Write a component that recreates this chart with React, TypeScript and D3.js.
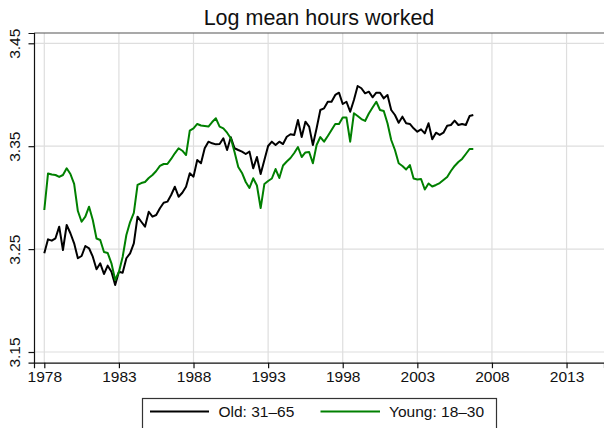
import * as d3 from 'd3';
import * as React from 'react';

// quarterly observations, 1978Q1 onward
const startYear = 1978;

const oldHours = [
  3.2459, 3.2595, 3.2582, 3.2605, 3.2718, 3.2491, 3.2734, 3.2654, 3.2556, 3.2411,
  3.2433, 3.253, 3.2508, 3.2426, 3.2304, 3.2362, 3.2258, 3.2339, 3.228, 3.2151,
  3.228, 3.2271, 3.2411, 3.2459, 3.2556, 3.2815, 3.2766, 3.2718, 3.2863, 3.2815,
  3.2831, 3.2897, 3.2951, 3.2961, 3.3026, 3.3106, 3.3009, 3.3048, 3.3106, 3.3237,
  3.3204, 3.3366, 3.3334, 3.348, 3.3544, 3.3528, 3.3518, 3.3521, 3.3577, 3.3463,
  3.3587, 3.348, 3.3463, 3.3447, 3.3424, 3.3447, 3.3285, 3.3395, 3.323, 3.3366,
  3.3502, 3.3544, 3.3512, 3.3544, 3.3521, 3.3592, 3.3616, 3.3609, 3.3755, 3.3589,
  3.3738, 3.369, 3.3512, 3.3674, 3.3852, 3.3868, 3.3932, 3.3932, 3.3998, 3.402,
  3.391, 3.3932, 3.3835, 3.3949, 3.4085, 3.4063, 3.4014, 3.403, 3.3975, 3.402,
  3.402, 3.3965, 3.3998, 3.3852, 3.3803, 3.3728, 3.3787, 3.3723, 3.3716, 3.3674,
  3.3641, 3.3664, 3.3625, 3.3723, 3.3567, 3.3631, 3.3609, 3.3631, 3.3699, 3.3706,
  3.3748, 3.3706, 3.3716, 3.3706, 3.3793, 3.3803,
];

const youngHours = [
  3.288, 3.3235, 3.3225, 3.322, 3.3201, 3.322, 3.3285, 3.323, 3.3133, 3.287,
  3.2766, 3.2815, 3.2912, 3.2783, 3.2603, 3.2588, 3.2472, 3.2462, 3.2362, 3.22,
  3.2277, 3.2423, 3.2637, 3.2763, 3.2851, 3.3123, 3.3142, 3.3152, 3.3191, 3.322,
  3.3259, 3.3308, 3.3327, 3.3327, 3.3376, 3.3431, 3.348, 3.3456, 3.3414, 3.3651,
  3.3674, 3.3716, 3.3701, 3.3696, 3.3691, 3.3735, 3.3771, 3.3691, 3.3674, 3.3631,
  3.3577, 3.3444, 3.3298, 3.324, 3.3152, 3.3094, 3.3188, 3.3118, 3.2899, 3.3133,
  3.3162, 3.3186, 3.3278, 3.3191, 3.3312, 3.3351, 3.3385, 3.3434, 3.3492, 3.3395,
  3.3439, 3.3444, 3.3334, 3.3512, 3.3589, 3.3544, 3.3599, 3.3657, 3.3716, 3.3716,
  3.3779, 3.3779, 3.3544, 3.382, 3.3793, 3.3764, 3.3745, 3.3818, 3.3876, 3.3932,
  3.3852, 3.3842, 3.3723, 3.356, 3.3463, 3.3334, 3.3308, 3.3274, 3.3317, 3.3186,
  3.3176, 3.3181, 3.3079, 3.3138, 3.3108, 3.3123, 3.3142, 3.3172, 3.3201, 3.3259,
  3.3308, 3.3346, 3.3376, 3.3424, 3.3473, 3.3473,
];

const xTicks = [1978, 1983, 1988, 1993, 1998, 2003, 2008, 2013];
const yTicks = [3.15, 3.25, 3.35, 3.45];

const seriesNames = ['Old: 31\u201365', 'Young: 18\u201330'];
const seriesColors = ['#000000', '#008000'];

const FONT = '"Liberation Sans", Arial, sans-serif';

const App = () => {
  const ref = React.useRef<SVGSVGElement | null>(null);
  const width = 604;
  const height = 428;

  React.useEffect(() => {
    if (!ref.current) return;
    const svg = d3.select(ref.current);
    svg.selectAll('*').remove();

    const left = 34;
    const right = 604;
    const top = 33;
    const bottom = 362.7;

    const x = d3.scaleLinear().domain([1977.31, 2015.51]).range([left, right]);
    const y = d3.scaleLinear().domain([3.1396, 3.46]).range([bottom, top]);

    svg.append('rect').attr('width', width).attr('height', height).attr('fill', '#fff');

    // title
    svg
      .append('text')
      .attr('x', 319)
      .attr('y', 24.5)
      .attr('text-anchor', 'middle')
      .style('font-family', FONT)
      .style('font-size', '21.5px')
      .attr('fill', '#111')
      .text('Log mean hours worked');

    // grid
    const grid = svg.append('g');
    xTicks.forEach((t) => {
      grid.append('line').attr('x1', x(t)).attr('x2', x(t)).attr('y1', top).attr('y2', bottom).attr('stroke', '#dedede').attr('stroke-width', 1.2);
    });
    yTicks.forEach((t) => {
      grid.append('line').attr('x1', left).attr('x2', right).attr('y1', y(t)).attr('y2', y(t)).attr('stroke', '#dedede').attr('stroke-width', 1.2);
    });

    // frame top
    svg.append('line').attr('x1', left).attr('x2', right).attr('y1', top).attr('y2', top).attr('stroke', '#555').attr('stroke-width', 1.2);

    // series
    const line = d3
      .line<number>()
      .x((d, i) => x(startYear + i / 4))
      .y((d) => y(d));

    [oldHours, youngHours].forEach((s, k) => {
      svg
        .append('path')
        .datum(s)
        .attr('d', line)
        .attr('fill', 'none')
        .attr('stroke', seriesColors[k])
        .attr('stroke-width', 2)
        .attr('stroke-linejoin', 'round');
    });

    // x axis
    const xAxis = svg
      .append('g')
      .attr('transform', `translate(0,${bottom})`)
      .call(d3.axisBottom(x).tickValues(xTicks).tickFormat(d3.format('d')).tickSize(5.5).tickPadding(3));
    xAxis.select('.domain').attr('stroke', '#111').attr('stroke-width', 1.2);
    xAxis.selectAll('.tick line').attr('stroke', '#111').attr('stroke-width', 1.2);
    xAxis.selectAll('.tick text').style('font-family', FONT).style('font-size', '15.5px').attr('fill', '#111');

    // y axis
    const yAxis = svg
      .append('g')
      .attr('transform', `translate(${left},0)`)
      .call(d3.axisLeft(y).tickValues(yTicks).tickFormat(d3.format('.2f')).tickSize(5.5));
    yAxis.select('.domain').attr('stroke', '#111').attr('stroke-width', 1.2);
    yAxis.selectAll('.tick line').attr('stroke', '#111').attr('stroke-width', 1.2);
    yAxis
      .selectAll('.tick text')
      .style('font-family', FONT)
      .style('font-size', '15.5px')
      .attr('fill', '#111')
      .attr('x', null)
      .attr('dy', null)
      .attr('text-anchor', 'middle')
      .attr('transform', 'translate(-14.5,0) rotate(-90)');

    // legend
    const lg = svg.append('g');
    lg.append('rect')
      .attr('x', 142.5)
      .attr('y', 398.5)
      .attr('width', 354)
      .attr('height', 40)
      .attr('fill', '#fff')
      .attr('stroke', '#333')
      .attr('stroke-width', 1.2);
    const items = [
      { x1: 150, x2: 209, tx: 218.5 },
      { x1: 320.5, x2: 380, tx: 389 },
    ];
    items.forEach((it, k) => {
      lg.append('line').attr('x1', it.x1).attr('x2', it.x2).attr('y1', 411.5).attr('y2', 411.5).attr('stroke', seriesColors[k]).attr('stroke-width', 2);
      lg.append('text')
        .attr('x', it.tx)
        .attr('y', 417)
        .style('font-family', FONT)
        .style('font-size', '15.5px')
        .attr('fill', '#111')
        .text(seriesNames[k]);
    });
  }, []);

  return <svg ref={ref} width={width} height={height} style={{ position: 'absolute', left: 0, top: 0, display: 'block' }} />;
};

export default App;
